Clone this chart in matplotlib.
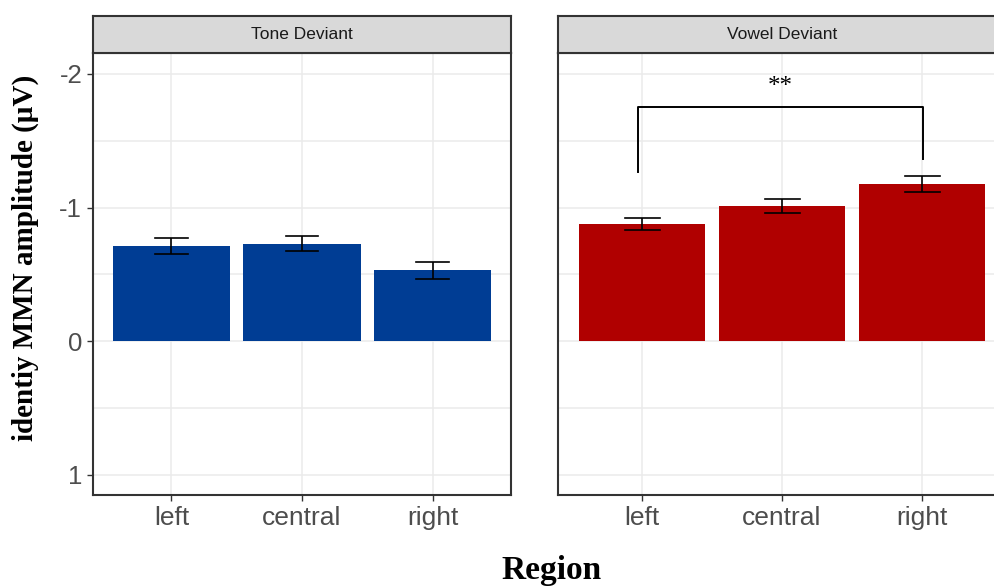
import matplotlib
matplotlib.use("Agg")
import matplotlib.pyplot as plt
import numpy as np

# values (negative = up, axis is reversed)
regions = ["left", "central", "right"]
panels = ["Tone Deviant", "Vowel Deviant"]
tone_mean = [-0.71, -0.73, -0.53]
tone_se = [0.06, 0.058, 0.065]
vowel_mean = [-0.88, -1.01, -1.18]
vowel_se = [0.046, 0.052, 0.06]
bar_colors = ["#003D94", "#B00000"]

y_ticks = [-2, -1, 0, 1]
y_minor = [-1.5, -0.5, 0.5]
y_lim = (1.15, -2.157)

W, H = 994, 586
fig = plt.figure(figsize=(W / 100, H / 100), dpi=100)

tick_font = "Liberation Sans"
grid_col = "#EBEBEB"
border_col = "#333333"


def px_box(x0, y0, x1, y1):
    return [x0 / W, (H - y1) / H, (x1 - x0) / W, (y1 - y0) / H]


def draw_panel(ax, means, ses, color, show_y):
    x = np.arange(len(regions))
    ax.set_xlim(-0.6, len(regions) - 0.4)
    ax.set_ylim(*y_lim)
    for yv in y_ticks + y_minor:
        ax.axhline(yv, color=grid_col, lw=1.1, zorder=0)
    for xv in x:
        ax.axvline(xv, color=grid_col, lw=1.1, zorder=0)
    ax.bar(x, means, width=0.9, color=color, zorder=2)
    ax.errorbar(x, means, yerr=ses, fmt="none", ecolor="black",
                elinewidth=1.2, capsize=0, zorder=3)
    # caps of width 0.25 like ggplot's geom_errorbar
    for xi, m, s in zip(x, means, ses):
        ax.plot([xi - 0.125, xi + 0.125], [m - s, m - s], color="black", lw=1.2, zorder=3)
        ax.plot([xi - 0.125, xi + 0.125], [m + s, m + s], color="black", lw=1.2, zorder=3)
    ax.set_xticks(x)
    ax.set_xticklabels(regions, fontsize=19, color="#4D4D4D", family=tick_font)
    ax.set_yticks(y_ticks)
    if show_y:
        ax.set_yticklabels([str(v) for v in y_ticks], fontsize=18.5,
                           color="#4D4D4D", family=tick_font)
    else:
        ax.tick_params(axis="y", left=False, labelleft=False)
    ax.tick_params(axis="both", length=4.3, width=1, color=border_col, pad=3.5)
    for sp in ax.spines.values():
        sp.set_color(border_col)
        sp.set_linewidth(1.5)
        sp.set_zorder(5)


def draw_strip(box, label):
    sax = fig.add_axes(box)
    sax.set_facecolor("#D9D9D9")
    sax.set_xticks([])
    sax.set_yticks([])
    for sp in sax.spines.values():
        sp.set_color(border_col)
        sp.set_linewidth(1.5)
    sax.text(0.5, 0.5, label, ha="center", va="center", fontsize=12.5,
             color="#1A1A1A", family=tick_font, transform=sax.transAxes)
    return sax


ax1 = fig.add_axes(px_box(93, 53, 511, 495))
draw_panel(ax1, tone_mean, tone_se, bar_colors[0], True)
draw_strip(px_box(93, 16, 511, 53), panels[0])

ax2 = fig.add_axes(px_box(558, 53, 1006, 495))
draw_panel(ax2, vowel_mean, vowel_se, bar_colors[1], False)
draw_strip(px_box(558, 16, 1006, 53), panels[1])

# significance bracket between left and right (vowel)
br_x = [-0.03, -0.03, 2.01, 2.01]
br_y = [-1.27, -1.753, -1.753, -1.365]
ax2.plot(br_x, br_y, color="black", lw=1.4, zorder=4)
ax2.text(0.985, -1.90, "**", ha="center", va="center", fontsize=18,
         family="Liberation Serif", color="black")

fig.text(25 / W, (H - 258) / H, "identiy MMN amplitude (\u03bcV)", rotation=90,
         ha="center", va="center", fontsize=21, fontweight="bold",
         family="Liberation Serif")
fig.text(552 / W, (H - 571) / H, "Region", ha="center", va="center",
         fontsize=24, fontweight="bold", family="Liberation Serif")

fig.savefig("out.png", dpi=100, facecolor="white")
